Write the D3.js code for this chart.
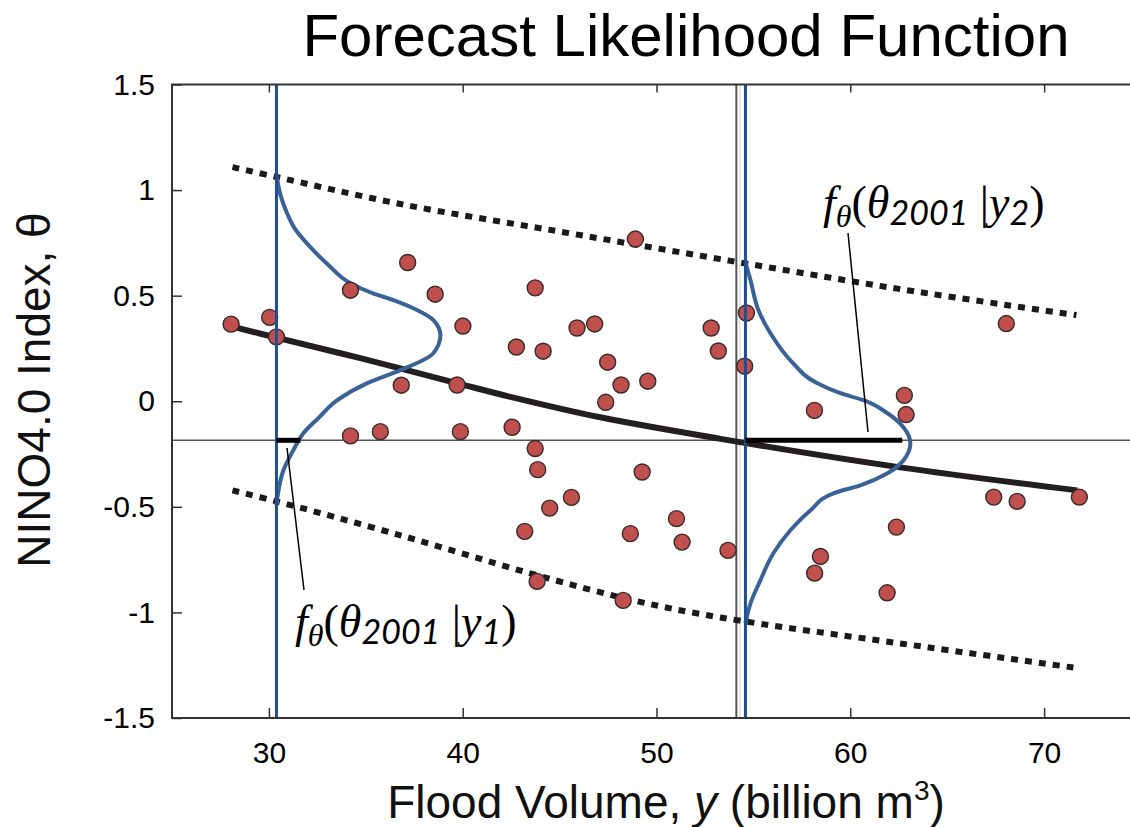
<!DOCTYPE html>
<html>
<head>
<meta charset="utf-8">
<script src="https://cdn.jsdelivr.net/npm/d3@7"></script>
<style>
  html, body { margin: 0; padding: 0; background: #fff; }
  svg { display: block; }
</style>
</head>
<body>
<svg id="chart" width="1130" height="827"></svg>
<script>
// ---- data ----
const xTicks = [30, 40, 50, 60, 70];
const yTicks = [-1.5, -1, -0.5, 0, 0.5, 1, 1.5];
const yTickLabels = ["-1.5", "-1", "-0.5", "0", "0.5", "1", "1.5"];

// observed years: flood volume (billion m3) and NINO4.0 index
const floodVolume = [28.05, 30.04, 30.39, 34.21, 37.16, 38.58, 40.01, 36.83, 39.71, 34.21,
                     35.75, 39.88, 42.55, 43.74, 48.91, 42.77, 44.15, 45.90, 46.81, 47.48,
                     48.17, 49.55, 47.38, 52.82, 53.19, 43.74, 43.87, 45.61, 44.49, 43.20,
                     43.84, 49.26, 51.03, 48.65, 51.32, 48.28, 53.69, 54.64, 54.55, 58.15,
                     62.79, 62.88, 68.05, 67.40, 68.61, 71.82, 62.38, 58.46, 58.16, 61.90];
const ninoIndex   = [0.365, 0.397, 0.305, 0.526, 0.657, 0.507, 0.356, 0.076, 0.077, -0.164,
                     -0.144, -0.144, -0.123, 0.537, 0.768, 0.257, 0.237, 0.347, 0.366, 0.185,
                     0.077, 0.095, -0.005, 0.347, 0.238, -0.224, -0.324, -0.455, -0.506, -0.616,
                     -0.853, -0.335, -0.556, -0.627, -0.667, -0.943, -0.706, 0.418, 0.166, -0.043,
                     0.028, -0.063, 0.368, -0.454, -0.474, -0.454, -0.596, -0.735, -0.814, -0.907];

// conditional mean of theta given y
const fitVolume = [28.07, 30.39, 34.72, 39.73, 42.46, 47.10, 53.30, 62.58, 71.72];
const fitTheta  = [0.355, 0.301, 0.204, 0.085, 0.021, -0.076, -0.178, -0.313, -0.422];

// prediction bounds
const upperVolume = [28.12, 30.39, 36.79, 45.04, 53.30, 62.58, 71.67];
const upperTheta  = [1.109, 1.062, 0.934, 0.803, 0.673, 0.531, 0.408];
const lowerVolume = [28.12, 30.39, 36.79, 43.49, 48.81, 53.30, 62.58, 71.51];
const lowerTheta  = [-0.422, -0.474, -0.635, -0.815, -0.943, -1.024, -1.147, -1.261];

// conditional densities of theta, drawn sideways from the conditioning volumes
const conditionVolumes = [30.39, 54.59];
const density1Theta  = [1.071, 0.976, 0.896, 0.820, 0.730, 0.645, 0.559, 0.512, 0.479, 0.436,
                        0.384, 0.313, 0.228, 0.147, 0.086, 0.005, -0.080, -0.151, -0.232,
                        -0.327, -0.455, -0.493];
const density1Volume = [30.39, 30.60, 30.91, 31.32, 32.14, 33.07, 34.21, 35.34, 36.42, 37.56,
                        38.49, 38.85, 38.49, 36.79, 35.08, 33.53, 32.55, 31.78, 31.26,
                        30.75, 30.44, 30.39];
const density2Theta  = [0.659, 0.573, 0.431, 0.322, 0.194, 0.085, 0.038, 0.005, -0.057, -0.123,
                        -0.199, -0.280, -0.341, -0.398, -0.436, -0.517, -0.611, -0.720, -0.848,
                        -0.957, -1.052];
const density2Volume = [54.59, 54.85, 55.26, 55.88, 56.91, 58.30, 59.49, 60.68, 61.92, 62.74,
                        63.10, 62.74, 61.92, 60.52, 59.13, 57.94, 56.91, 56.03, 55.36,
                        54.85, 54.59];

// 2001 forecast value and its likelihood under each density
const theta2001 = -0.185;
const volume2001 = 54.12;
const likelihoodEnd = [31.63, 62.68];

// ---- layout ----
const svg = d3.select("#chart");
const sans = "'Liberation Sans', Arial, Helvetica, sans-serif";
const serif = "'Liberation Serif', 'Times New Roman', serif";

const x = d3.scaleLinear().domain([25, 75]).range([172, 1141]);
const y = d3.scaleLinear().domain([-1.5, 1.5]).range([718, 84.5]);

// reference lines for the 2001 value
svg.append("line")
  .attr("x1", x(25)).attr("x2", x(75))
  .attr("y1", y(theta2001)).attr("y2", y(theta2001))
  .attr("stroke", "#555").attr("stroke-width", 1.5);
svg.append("line")
  .attr("x1", x(volume2001)).attr("x2", x(volume2001))
  .attr("y1", y(1.5)).attr("y2", y(-1.5))
  .attr("stroke", "#555").attr("stroke-width", 2);
svg.append("line")
  .attr("x1", x(volume2001) + 3.5).attr("x2", x(volume2001) + 3.5)
  .attr("y1", y(1.5)).attr("y2", y(-1.5))
  .attr("stroke", "#d0d0d0").attr("stroke-width", 1);

// prediction bounds
const lineXY = (vs, ts) => d3.line().curve(d3.curveCatmullRom)
  .x((d, i) => x(vs[i])).y((d, i) => y(ts[i]))(vs);
[[upperVolume, upperTheta], [lowerVolume, lowerTheta]].forEach(([vs, ts]) => {
  svg.append("path")
    .attr("d", lineXY(vs, ts))
    .attr("fill", "none").attr("stroke", "#1a1a1a")
    .attr("stroke-width", 6).attr("stroke-dasharray", "7,7");
});

// conditional mean
svg.append("path")
  .attr("d", lineXY(fitVolume, fitTheta))
  .attr("fill", "none").attr("stroke", "#231f20")
  .attr("stroke-width", 6).attr("stroke-linecap", "butt");

// density curves
[[density1Volume, density1Theta], [density2Volume, density2Theta]].forEach(([vs, ts]) => {
  svg.append("path")
    .attr("d", d3.line().curve(d3.curveMonotoneY)
      .x((d, i) => x(vs[i])).y((d, i) => y(ts[i]))(vs))
    .attr("fill", "none").attr("stroke", "#3a6296").attr("stroke-width", 4)
    .attr("stroke-linejoin", "round");
});

// observations
svg.append("g").selectAll("circle")
  .data(floodVolume)
  .join("circle")
  .attr("cx", d => x(d))
  .attr("cy", (d, i) => y(ninoIndex[i]))
  .attr("r", 8)
  .attr("fill", "#c0504d")
  .attr("stroke", "#3a2a2a")
  .attr("stroke-width", 1.4);

// conditioning volumes
svg.append("g").selectAll("line")
  .data(conditionVolumes)
  .join("line")
  .attr("x1", d => x(d)).attr("x2", d => x(d))
  .attr("y1", y(1.5)).attr("y2", y(-1.5))
  .attr("stroke", "#1f4f8f").attr("stroke-width", 3);

// likelihood of theta2001
svg.append("g").selectAll("line")
  .data(likelihoodEnd)
  .join("line")
  .attr("x1", (d, i) => x(conditionVolumes[i])).attr("x2", d => x(d))
  .attr("y1", y(theta2001)).attr("y2", y(theta2001))
  .attr("stroke", "#000").attr("stroke-width", 5);

// ---- axes ----
const axisLeft = d3.axisLeft(y).tickValues(yTicks)
  .tickFormat((d, i) => yTickLabels[i]).tickSizeInner(-10).tickSizeOuter(0).tickPadding(17);
const gy = svg.append("g").attr("transform", `translate(${x(25)},0)`).call(axisLeft);
const axisBottom = d3.axisBottom(x).tickValues(xTicks).tickFormat(d3.format("d"))
  .tickSizeInner(-10).tickSizeOuter(0).tickPadding(24);
const gx = svg.append("g").attr("transform", `translate(0,${y(-1.5)})`).call(axisBottom);
const axisTop = d3.axisTop(x).tickValues(xTicks).tickFormat("")
  .tickSizeInner(-8).tickSizeOuter(0);
const gt = svg.append("g").attr("transform", `translate(0,${y(1.5)})`).call(axisTop);
[gy, gx, gt].forEach(g => {
  g.select(".domain").remove();
  g.selectAll(".tick line").attr("stroke", "#333").attr("stroke-width", 1.5);
  g.selectAll("text").attr("font-family", sans).attr("font-size", 30).attr("fill", "#000");
});

// frame
svg.append("path")
  .attr("d", `M${x(75)},${y(1.5)}H${x(25)}V${y(-1.5)}H${x(75)}`)
  .attr("fill", "none").attr("stroke", "#333").attr("stroke-width", 2);

// ---- titles ----
svg.append("text")
  .attr("x", 686).attr("y", 56)
  .attr("text-anchor", "middle")
  .attr("font-family", sans).attr("font-size", 60).attr("fill", "#000")
  .text("Forecast Likelihood Function");

const xl = svg.append("text")
  .attr("x", 666).attr("y", 818)
  .attr("text-anchor", "middle")
  .attr("font-family", sans).attr("font-size", 46).attr("fill", "#111");
xl.append("tspan").text("Flood Volume, ");
xl.append("tspan").attr("font-style", "italic").text("y");
xl.append("tspan").text(" (billion m");
xl.append("tspan").attr("font-size", 28).attr("dy", -18).text("3");
xl.append("tspan").attr("dy", 18).text(")");

svg.append("text")
  .attr("transform", "translate(50,390) rotate(-90)")
  .attr("text-anchor", "middle")
  .attr("font-family", sans).attr("font-size", 46).attr("fill", "#111")
  .text("NINO4.0 Index, θ");

// ---- density annotations ----
function densityLabel(px, py, idx) {
  const t = svg.append("text").attr("x", px).attr("y", py)
    .attr("font-family", serif).attr("font-size", 46).attr("fill", "#000");
  t.append("tspan").attr("font-style", "italic").text("f");
  t.append("tspan").attr("font-style", "italic").attr("font-size", 32).attr("dy", 9).text("θ");
  t.append("tspan").attr("dy", -9).text("(");
  t.append("tspan").attr("font-style", "italic").text("θ");
  t.append("tspan").attr("font-family", "Lato, 'Open Sans', sans-serif").attr("font-style", "italic")
    .attr("font-size", 34).attr("dy", 7).text("2001");
  t.append("tspan").attr("dy", -7).text(" |");
  t.append("tspan").attr("font-style", "italic").text("y");
  t.append("tspan").attr("font-family", "Lato, 'Open Sans', sans-serif").attr("font-style", "italic")
    .attr("font-size", 34).attr("dy", 7).text(idx);
  t.append("tspan").attr("dy", -7).text(")");
}
densityLabel(823, 218, "2");
densityLabel(295, 637, "1");

// leader lines
svg.append("line").attr("x1", 848).attr("y1", 233).attr("x2", 868).attr("y2", 432)
  .attr("stroke", "#000").attr("stroke-width", 1.5);
svg.append("line").attr("x1", 287).attr("y1", 448).attr("x2", 304).attr("y2", 590)
  .attr("stroke", "#000").attr("stroke-width", 1.5);
</script>
</body>
</html>
